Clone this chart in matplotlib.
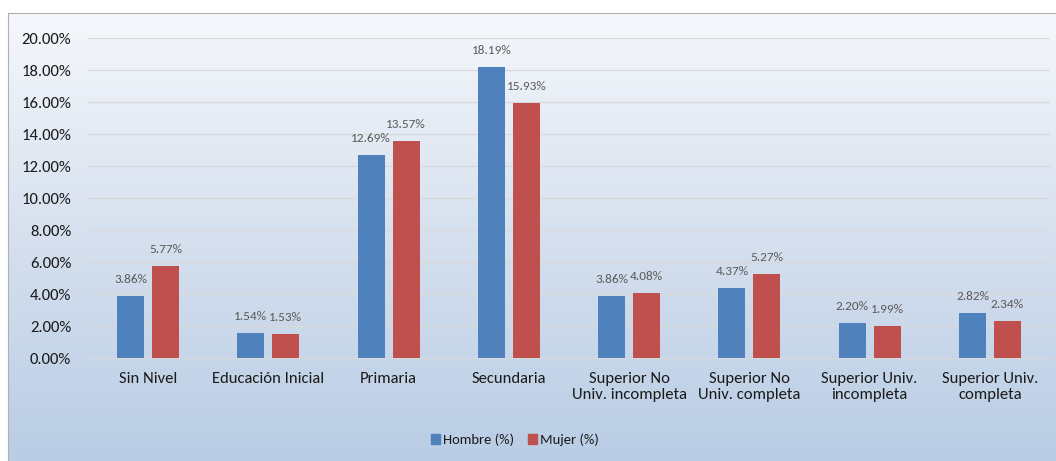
import numpy as np
import matplotlib
matplotlib.use("Agg")
import matplotlib.pyplot as plt
from matplotlib import font_manager
from matplotlib.patches import Patch

# pick a Calibri-like font if one is installed
installed = {f.name for f in font_manager.fontManager.ttflist}
family = [f for f in ["Carlito", "Liberation Sans Narrow", "Open Sans", "DejaVu Sans"] if f in installed]
plt.rcParams["font.family"] = family + ["DejaVu Sans"]

categorias = ["Sin Nivel", "Educación Inicial", "Primaria", "Secundaria",
              "Superior No\nUniv. incompleta", "Superior No\nUniv. completa",
              "Superior Univ.\nincompleta", "Superior Univ.\ncompleta"]
hombre = [3.86, 1.54, 12.69, 18.19, 3.86, 4.37, 2.20, 2.82]
mujer = [5.77, 1.53, 13.57, 15.93, 4.08, 5.27, 1.99, 2.34]
series = ["Hombre (%)", "Mujer (%)"]

azul = "#4f81bd"
rojo = "#c0504d"

fig = plt.figure(figsize=(10.56, 4.61), dpi=100)
fig.patch.set_facecolor("white")

# fondo degradado del área del gráfico
bg = fig.add_axes([8 / 1056, 0, 1048 / 1056, 448 / 461], zorder=0)
grad = np.linspace(0, 1, 256).reshape(-1, 1)
cmap = matplotlib.colors.LinearSegmentedColormap.from_list(
    "bg", ["#f5f8fc", "#d6e0ee", "#b9cde5"])
bg.imshow(grad, aspect="auto", cmap=cmap, extent=[0, 1, 0, 1], origin="upper")
bg.set_xlim(0, 1)
bg.set_ylim(0, 1)
bg.set_xticks([])
bg.set_yticks([])
for s in bg.spines.values():
    s.set_color("#b0b0b0")
    s.set_linewidth(0.8)
bg.spines["right"].set_visible(False)
bg.spines["bottom"].set_visible(False)

ax = fig.add_axes([88 / 1056, 103 / 461, 962 / 1056, 320 / 461], zorder=1)
ax.patch.set_alpha(0)

x = np.arange(len(categorias))
w = 0.225
b1 = ax.bar(x - 0.145, hombre, w, color=azul, zorder=3)
b2 = ax.bar(x + 0.145, mujer, w, color=rojo, zorder=3)

for bars, vals in [(b1, hombre), (b2, mujer)]:
    for r, v in zip(bars, vals):
        ax.annotate(f"{v:.2f}%", (r.get_x() + r.get_width() / 2, v),
                    xytext=(0, 11), textcoords="offset pixels",
                    ha="center", va="bottom", fontsize=9.5, color="#595959",
                    zorder=4)

ax.set_xlim(-0.5, len(categorias) - 0.5)
ax.set_ylim(0, 20)
ax.set_yticks(np.arange(0, 21, 2))
ax.set_yticklabels([f"{t:.2f}%" for t in np.arange(0, 21, 2)])
ax.set_xticks(x)
ax.set_xticklabels(categorias)
ax.yaxis.grid(True, color="#d9d9d9", linewidth=0.9, zorder=0)
ax.set_axisbelow(True)
ax.tick_params(axis="both", length=0, labelsize=12, labelcolor="#1a1a1a")
ax.tick_params(axis="y", pad=12)
ax.tick_params(axis="x", pad=10)
for s in ["top", "right", "left"]:
    ax.spines[s].set_visible(False)
ax.spines["bottom"].set_color("#d9d9d9")

handles = [Patch(color=azul), Patch(color=rojo)]
fig.legend(handles, series, loc="center", bbox_to_anchor=(515 / 1056, 1 - 440 / 461),
           ncol=2, frameon=False, fontsize=10.5, handlelength=0.6, handleheight=0.7,
           handletextpad=0.2, columnspacing=1.0, labelcolor="#1a1a1a")

fig.savefig("out.png", dpi=100)
